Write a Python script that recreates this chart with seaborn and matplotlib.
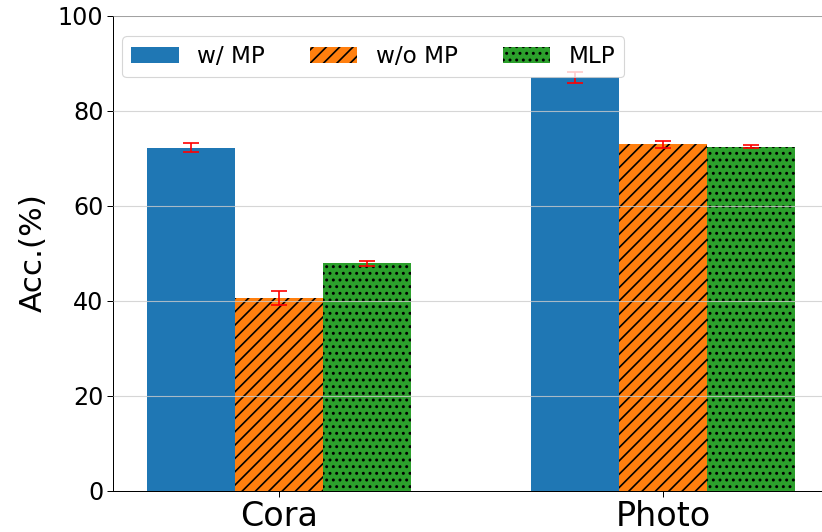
import numpy as np
import pandas as pd
import matplotlib
matplotlib.use("Agg")
import matplotlib.pyplot as plt
import seaborn as sns

# Accuracy (%) per dataset and model variant, with standard deviations
datasets = ["Cora", "Photo"]
variants = ["w/ MP", "w/o MP", "MLP"]
acc_w_mp = [72.2, 87.0]
acc_wo_mp = [40.5, 72.9]
acc_mlp = [47.8, 72.4]
std_w_mp = [0.9, 1.2]
std_wo_mp = [1.5, 0.7]
std_mlp = [0.5, 0.35]
y_ticks = [0, 20, 40, 60, 80, 100]

colors = ["#1f77b4", "#ff7f0e", "#2ca02c"]
hatches = ["", "//", ".."]

means = [acc_w_mp, acc_wo_mp, acc_mlp]
stds = [std_w_mp, std_wo_mp, std_mlp]

plt.rcParams["hatch.linewidth"] = 1.5

df = pd.DataFrame({
    "dataset": [d for _ in variants for d in datasets],
    "variant": [v for v in variants for _ in datasets],
    "acc": [a for series in means for a in series],
})

fig = plt.figure(figsize=(822 / 80, 532 / 80), dpi=80)
ax = fig.add_axes([113 / 822, 1 - 490.5 / 532, (832 - 113) / 822, 475 / 532])

sns.barplot(data=df, x="dataset", y="acc", hue="variant",
            order=datasets, hue_order=variants, palette=colors,
            saturation=1, width=0.6875, errorbar=None, ax=ax, legend=False)

bar_containers = list(ax.containers)

# hatching and error bars for each variant's bars
for container, hatch, series, err in zip(bar_containers, hatches, means, stds):
    xs = []
    for patch in container.patches:
        patch.set_hatch(hatch)
        patch.set_edgecolor("black")
        patch.set_linewidth(0)
        xs.append(patch.get_x() + patch.get_width() / 2)
    ax.errorbar(xs, series, yerr=err, fmt="none", ecolor="red",
                elinewidth=1.5, capsize=7.5, capthick=1.5, zorder=4)

handles = [container.patches[0] for container in bar_containers]
ax.legend(handles=handles, labels=variants, ncol=3, fontsize=20.8,
          loc="upper left", bbox_to_anchor=(0.0125, 0.957), borderaxespad=0,
          handlelength=2.05, handleheight=0.7, handletextpad=0.8,
          columnspacing=1.95)

ax.set_xlim(-0.432, 1.44)
ax.set_ylim(0, 100)
ax.set_yticks(y_ticks)
ax.set_xlabel("")
ax.set_ylabel("Acc.(%)", fontsize=28, labelpad=9)
ax.tick_params(axis="y", labelsize=21.5, length=5, width=0.9)
ax.tick_params(axis="x", labelsize=30, length=5, width=0.9)

ax.set_axisbelow(False)
ax.yaxis.grid(True, color="#cccccc", linewidth=1.0, alpha=0.8, zorder=3)
ax.xaxis.grid(False)
for side in ["left", "bottom", "top", "right"]:
    ax.spines[side].set_visible(True)
    ax.spines[side].set_color("black")
    ax.spines[side].set_linewidth(0.9)

fig.savefig("out.png", dpi=80)
